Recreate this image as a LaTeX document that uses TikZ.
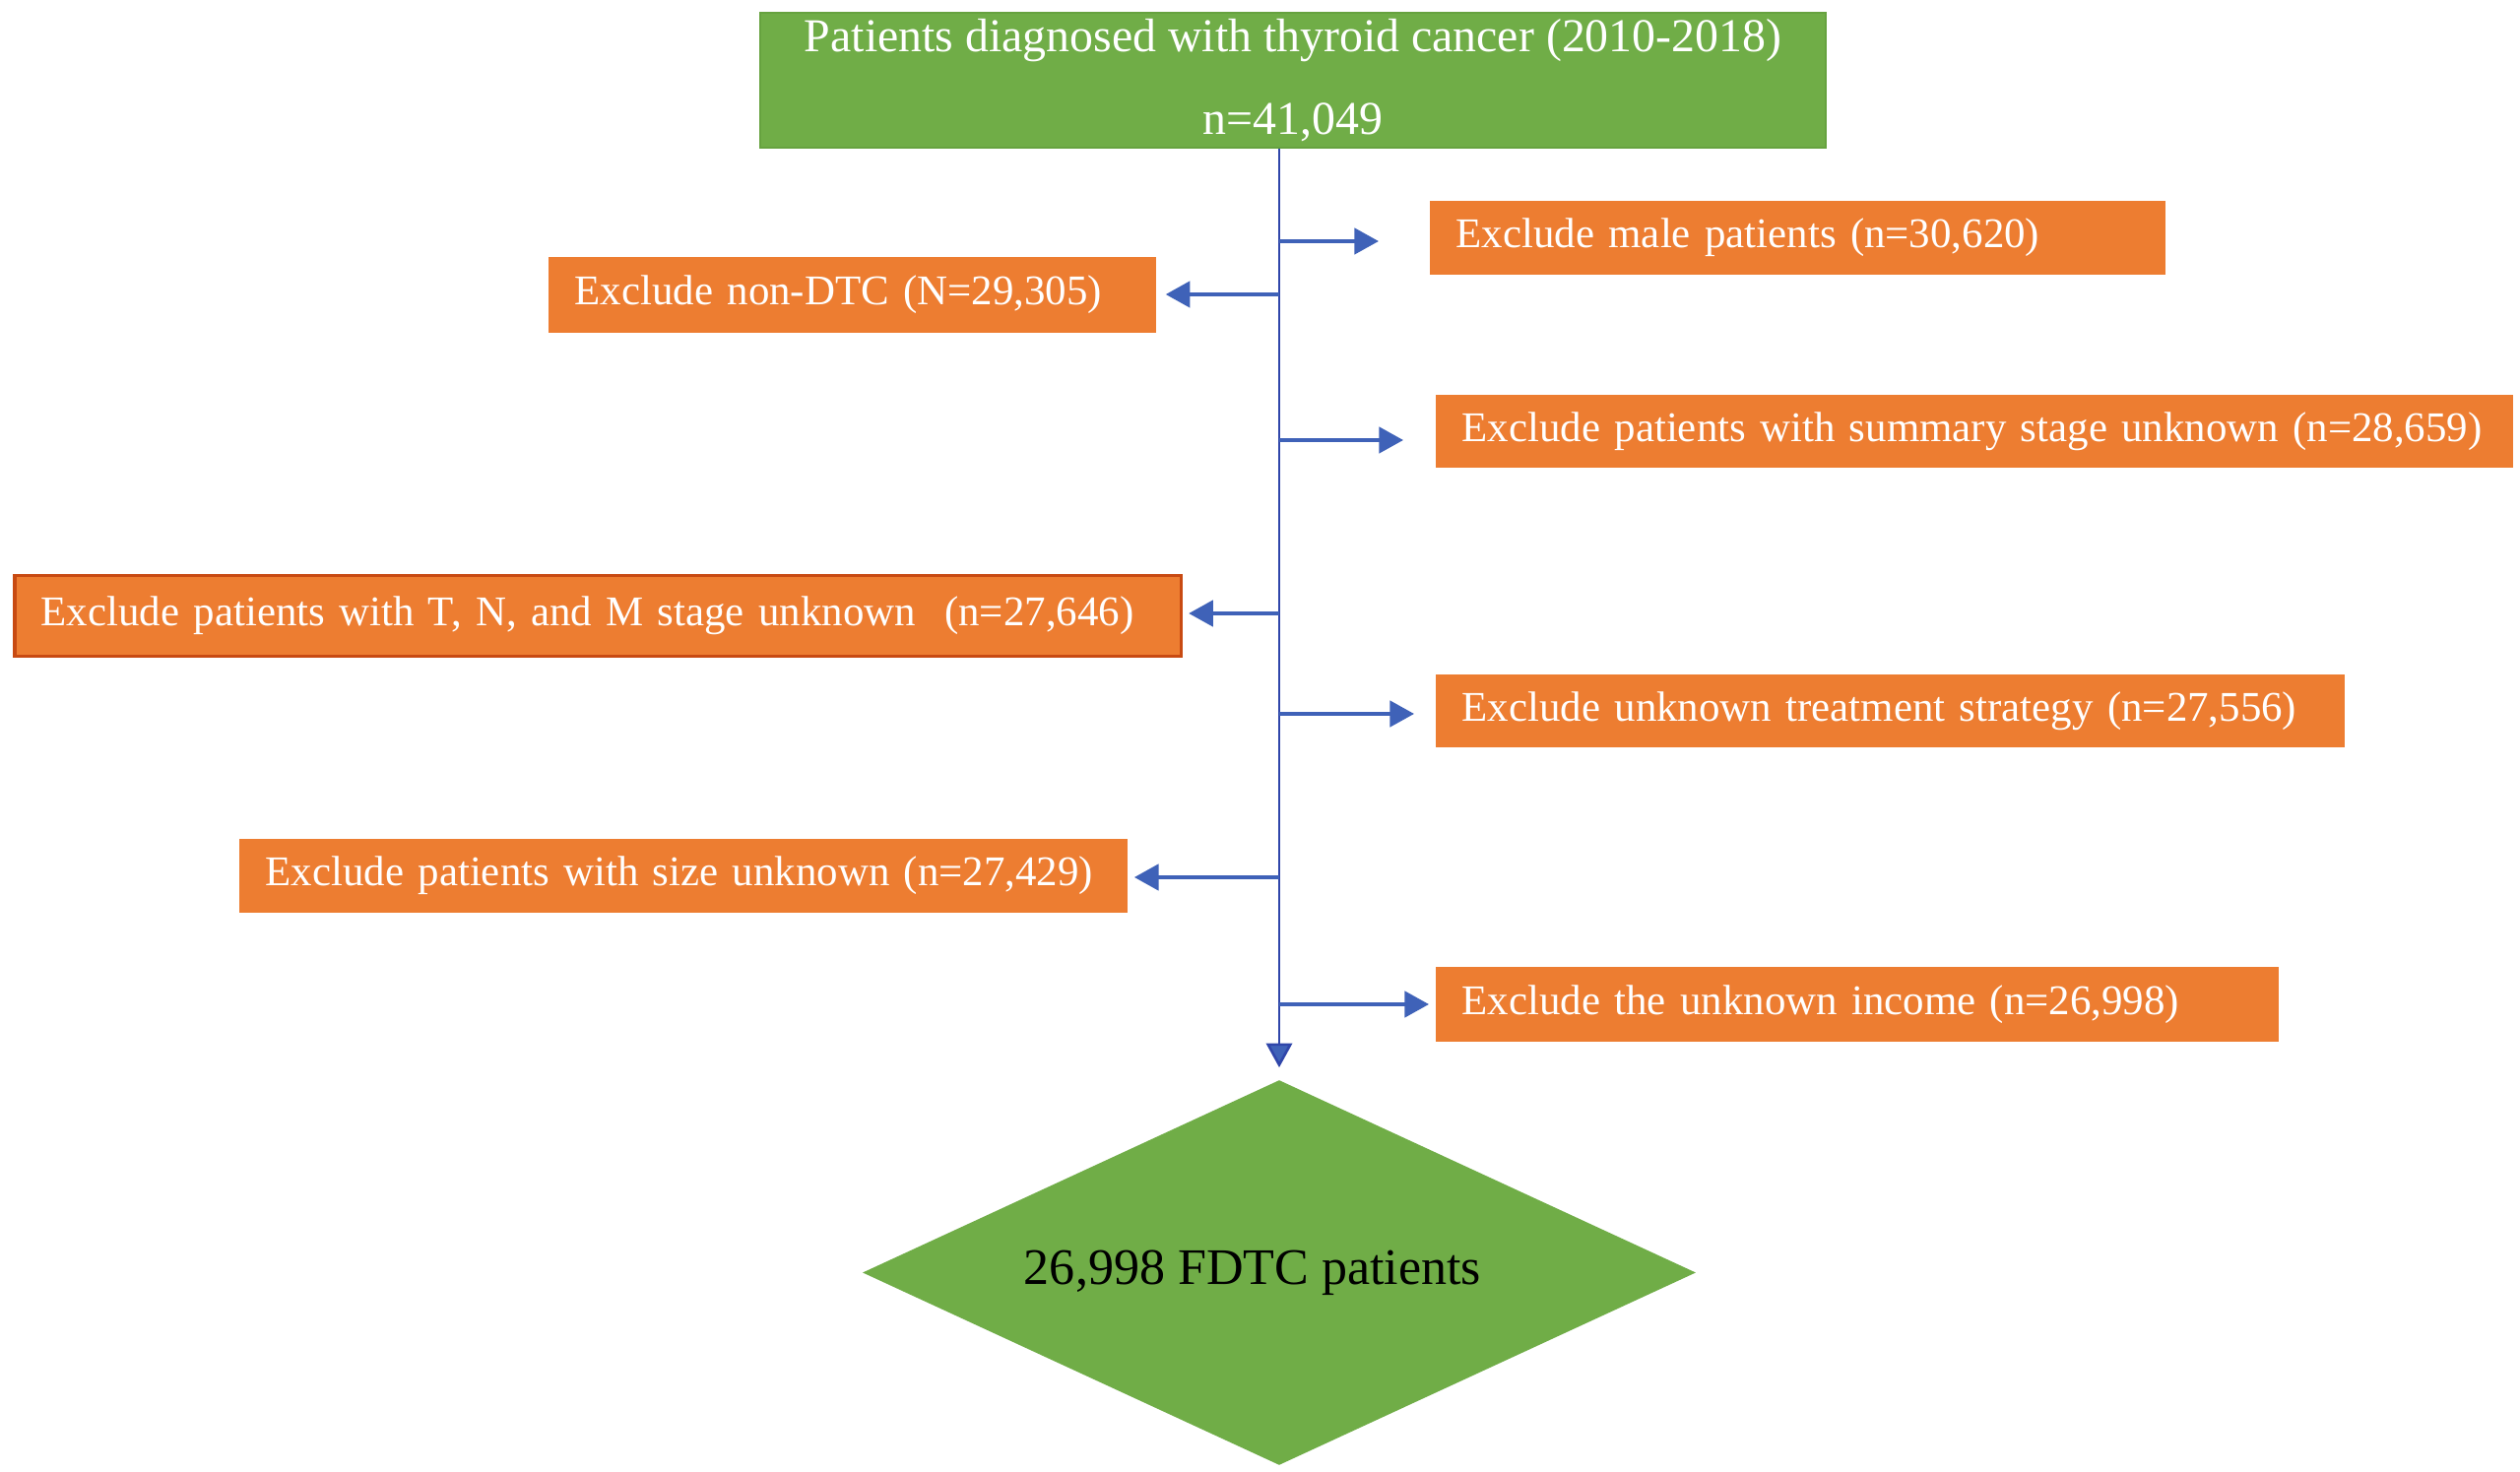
\documentclass[tikz,border=0pt]{standalone}
\usepackage{fontspec}
\setmainfont{Liberation Serif}
\usetikzlibrary{arrows.meta,shapes.geometric}
\definecolor{boxgreen}{HTML}{70AD47}
\definecolor{boxorange}{HTML}{ED7D31}
\definecolor{arrblue}{HTML}{3F62B8}
\definecolor{trunkblue}{HTML}{3046AA}
\definecolor{tnmborder}{HTML}{C84A12}
\definecolor{topborder}{HTML}{66A23F}
\begin{document}
\begin{tikzpicture}[x=0.01cm,y=-0.01cm,
  exbox/.style={fill=boxorange, text=white, anchor=west, minimum height=#1,
    inner xsep=0.27cm, inner ysep=0pt, align=left,
    font=\fontsize{12.2}{15}\selectfont},
  topbox/.style={fill=boxgreen, draw=topborder, line width=0.5pt, text=white,
    minimum width=10.82cm, minimum height=1.37cm, inner sep=0pt, align=center,
    font=\fontsize{13.6}{16}\selectfont},
  endbox/.style={diamond, fill=boxgreen, minimum width=8.46cm, minimum height=3.91cm,
    shape aspect=2.16, inner sep=0pt, text=black,
    font=\fontsize{14.8}{17}\selectfont},
  arr/.style={draw=arrblue, line width=1pt,
    -{Triangle[length=7pt,width=7.5pt]}},
  trunk/.style={draw=trunkblue, line width=0.75pt,
    -{Triangle[length=7pt,width=7.5pt,fill=arrblue]}}]
\useasboundingbox (0,0) rectangle (2559,1495);
\fill[white] (0,0) rectangle (2559,1495);

\node[topbox] (top) at (1313,81.5)
  {Patients diagnosed with thyroid cancer (2010-2018)\\[8pt]n=41,049};

\node[exbox=0.75cm, text width=6.93cm] (male) at (1451,241.5)
  {\mbox{Exclude male patients (n=30,620)}};
\node[exbox=0.77cm, text width=5.63cm] (nondtc) at (556,299.5)
  {\mbox{Exclude non-DTC (N=29,305)}};
\node[exbox=0.74cm, text width=10.40cm] (summary) at (1457,438)
  {\mbox{Exclude patients with summary stage unknown (n=28,659)}};
\node[exbox=0.82cm, text width=11.30cm, draw=tnmborder, line width=1pt] (tnm) at (13,625.5)
  {\mbox{Exclude patients with T, N, and M stage unknown\hspace{0.35em} (n=27,646)}};
\node[exbox=0.74cm, text width=8.69cm] (treat) at (1457,722)
  {\mbox{Exclude unknown treatment strategy (n=27,556)}};
\node[exbox=0.75cm, text width=8.48cm] (size) at (242,889.5)
  {\mbox{Exclude patients with size unknown (n=27,429)}};
\node[exbox=0.76cm, text width=8.02cm] (income) at (1457,1020)
  {\mbox{Exclude the unknown income (n=26,998)}};

\node[endbox] (fin) at (1299,1292.5) {26,998 FDTC patients\kern0.54cm};

\coordinate (trunktop) at (fin.north |- top.south);
\coordinate (tmale) at (1299,245);
\coordinate (tnondtc) at (1299,299);
\coordinate (tsummary) at (1299,447);
\coordinate (ttnm) at (1299,623);
\coordinate (ttreat) at (1299,725);
\coordinate (tsize) at (1299,891);
\coordinate (tincome) at (1299,1020);

\draw[trunk, shorten >=0.12cm] (trunktop) -- (fin.north);

\draw[arr, shorten >=0.51cm] (tmale) -- (tmale -| male.west);
\draw[arr, shorten >=0.09cm] (tnondtc) -- (tnondtc -| nondtc.east);
\draw[arr, shorten >=0.32cm] (tsummary) -- (tsummary -| summary.west);
\draw[arr, shorten >=0.06cm] (ttnm) -- (ttnm -| tnm.east);
\draw[arr, shorten >=0.21cm] (ttreat) -- (ttreat -| treat.west);
\draw[arr, shorten >=0.06cm] (tsize) -- (tsize -| size.east);
\draw[arr, shorten >=0.06cm] (tincome) -- (tincome -| income.west);
\end{tikzpicture}
\end{document}
